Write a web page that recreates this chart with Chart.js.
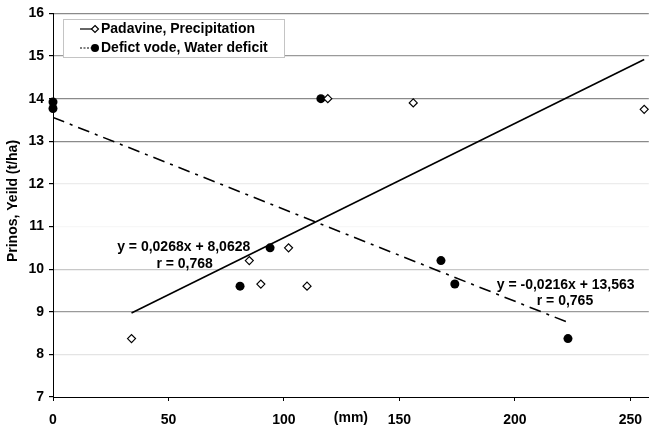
<!DOCTYPE html>
<html>
<head>
<meta charset="utf-8">
<script src="https://cdn.jsdelivr.net/npm/chart.js@4.4.1/dist/chart.umd.min.js"></script>
<style>
html,body{margin:0;padding:0;background:#fff;}
#wrap{width:654px;height:425px;position:relative;}
</style>
</head>
<body>
<div id="wrap"><canvas id="c" width="654" height="425"></canvas></div>
<script>
// Data
const precipX = [34, 85, 90, 102, 110, 119, 156, 256];
const precipY = [8.37, 10.2, 9.65, 10.5, 9.6, 14.0, 13.9, 13.75];
const deficitX = [0, 0, 81, 94, 116, 168, 174, 223];
const deficitY = [13.92, 13.77, 9.6, 10.5, 14.0, 10.2, 9.65, 8.37];
const precipTrendX = [34, 256];
const precipTrendY = [8.97, 14.92];
const deficitTrendX = [0, 223];
const deficitTrendY = [13.56, 8.75];
const legendLabels = ["Padavine, Precipitation", "Defict vode, Water deficit"];
const xTicks = [0, 50, 100, 150, 200, 250];
const yTicks = [7, 8, 9, 10, 11, 12, 13, 14, 15, 16];
const eqPrecip = ["y = 0,0268x + 8,0628", "r = 0,768"];
const eqDeficit = ["y = -0,0216x + 13,563", "r = 0,765"];
const yTitle = "Prinos, Yeild (t/ha)";
const xUnit = "(mm)";

const toPts = (xs, ys) => xs.map((x, i) => ({x: x, y: ys[i]}));
const FONT = '"Liberation Sans", Arial, sans-serif';

const gridColors = {16:'#8a8a8a',15:'#9a9a9a',14:'#8a8a8a',13:'#8a8a8a',12:'#ececec',11:'#f7f7f7',10:'#c8c8c8',9:'#9a9a9a',8:'#e4e4e4',7:'rgba(0,0,0,0)'};

const overlay = {
  id: 'overlay',
  afterDraw(chart) {
    const ctx = chart.ctx;
    const xs = chart.scales.x, ys = chart.scales.y;
    ctx.save();
    ctx.fillStyle = '#000';
    ctx.textAlign = 'center';
    ctx.textBaseline = 'middle';
    ctx.font = 'bold 14px ' + FONT;
    ctx.fillText(eqPrecip[0], xs.getPixelForValue(56.6), ys.getPixelForValue(10.52));
    ctx.fillText(eqPrecip[1], xs.getPixelForValue(57), ys.getPixelForValue(10.12));
    ctx.fillText(eqDeficit[0], xs.getPixelForValue(222), ys.getPixelForValue(9.63));
    ctx.fillText(eqDeficit[1], xs.getPixelForValue(221.7), ys.getPixelForValue(9.25));
    // (mm) unit label on the x axis line
    ctx.font = 'bold 14px ' + FONT;
    ctx.fillText(xUnit, xs.getPixelForValue(129), 418);
    // y title
    ctx.save();
    ctx.translate(13, 201);
    ctx.rotate(-Math.PI / 2);
    ctx.font = 'bold 14px ' + FONT;
    ctx.fillText(yTitle, 0, 0);
    ctx.restore();
    // legend
    ctx.fillStyle = '#fff';
    ctx.fillRect(63.5, 19.5, 221, 38);
    ctx.strokeStyle = '#c4c4c4';
    ctx.lineWidth = 1;
    ctx.strokeRect(63.5, 19.5, 221, 38);
    ctx.strokeStyle = '#000';
    ctx.lineWidth = 1.2;
    ctx.beginPath(); ctx.moveTo(80, 29); ctx.lineTo(92, 29); ctx.stroke();
    ctx.setLineDash([2, 1.5]);
    ctx.beginPath(); ctx.moveTo(80, 48); ctx.lineTo(92, 48); ctx.stroke();
    ctx.setLineDash([]);
    // diamond
    ctx.beginPath();
    ctx.moveTo(95, 25.5); ctx.lineTo(98.5, 29); ctx.lineTo(95, 32.5); ctx.lineTo(91.5, 29); ctx.closePath();
    ctx.fillStyle = '#fff'; ctx.fill(); ctx.lineWidth = 1.2; ctx.stroke();
    // circle
    ctx.beginPath(); ctx.arc(95, 48, 4, 0, Math.PI * 2); ctx.fillStyle = '#000'; ctx.fill();
    ctx.fillStyle = '#000';
    ctx.textAlign = 'left';
    ctx.font = 'bold 14px ' + FONT;
    ctx.fillText(legendLabels[0], 101, 29.5);
    ctx.fillText(legendLabels[1], 101, 48.5);
    ctx.restore();
  }
};

new Chart(document.getElementById('c'), {
  type: 'scatter',
  data: {
    datasets: [
      {label: 'precipTrend', type: 'line', data: toPts(precipTrendX, precipTrendY), borderColor: '#000', borderWidth: 1.6, pointRadius: 0, fill: false, showLine: true, order: 3},
      {label: 'deficitTrend', type: 'line', data: toPts(deficitTrendX, deficitTrendY), borderColor: '#000', borderWidth: 1.6, borderDash: [12, 6, 3, 6], pointRadius: 0, fill: false, showLine: true, order: 3},
      {label: legendLabels[0], data: toPts(precipX, precipY), pointStyle: 'rectRot', pointRadius: 4, pointBackgroundColor: '#fff', pointBorderColor: '#000', pointBorderWidth: 1.2, clip: false, order: 1},
      {label: legendLabels[1], data: toPts(deficitX, deficitY), pointStyle: 'circle', pointRadius: 4.5, pointBackgroundColor: '#000', pointBorderColor: '#000', pointBorderWidth: 0, clip: false, order: 2}
    ]
  },
  options: {
    responsive: false,
    animation: false,
    layout: {padding: {top: 13, right: 0, left: 0, bottom: 0}},
    plugins: {legend: {display: false}, tooltip: {enabled: false}},
    scales: {
      x: {
        type: 'linear', min: 0, max: 258,
        afterBuildTicks: s => { s.ticks = xTicks.map(v => ({value: v})); },
        afterFit: s => { s.height = 28; },
        border: {color: '#000', width: 1},
        grid: {drawOnChartArea: false, tickLength: 4, tickColor: '#000'},
        ticks: {color: '#000', font: {family: FONT, size: 14, weight: 'bold'}, padding: 11, maxRotation: 0}
      },
      y: {
        type: 'linear', min: 7, max: 16,
        afterBuildTicks: s => { s.ticks = yTicks.map(v => ({value: v})); },
        afterFit: s => { s.width = 53; },
        border: {color: '#000', width: 1},
        grid: {tickLength: 4, tickColor: '#000', color: c => gridColors[c.tick.value] || '#ccc', lineWidth: 1.2},
        ticks: {color: '#000', font: {family: FONT, size: 14, weight: 'bold'}, padding: 5}
      }
    }
  },
  plugins: [overlay]
});
</script>
</body>
</html>
